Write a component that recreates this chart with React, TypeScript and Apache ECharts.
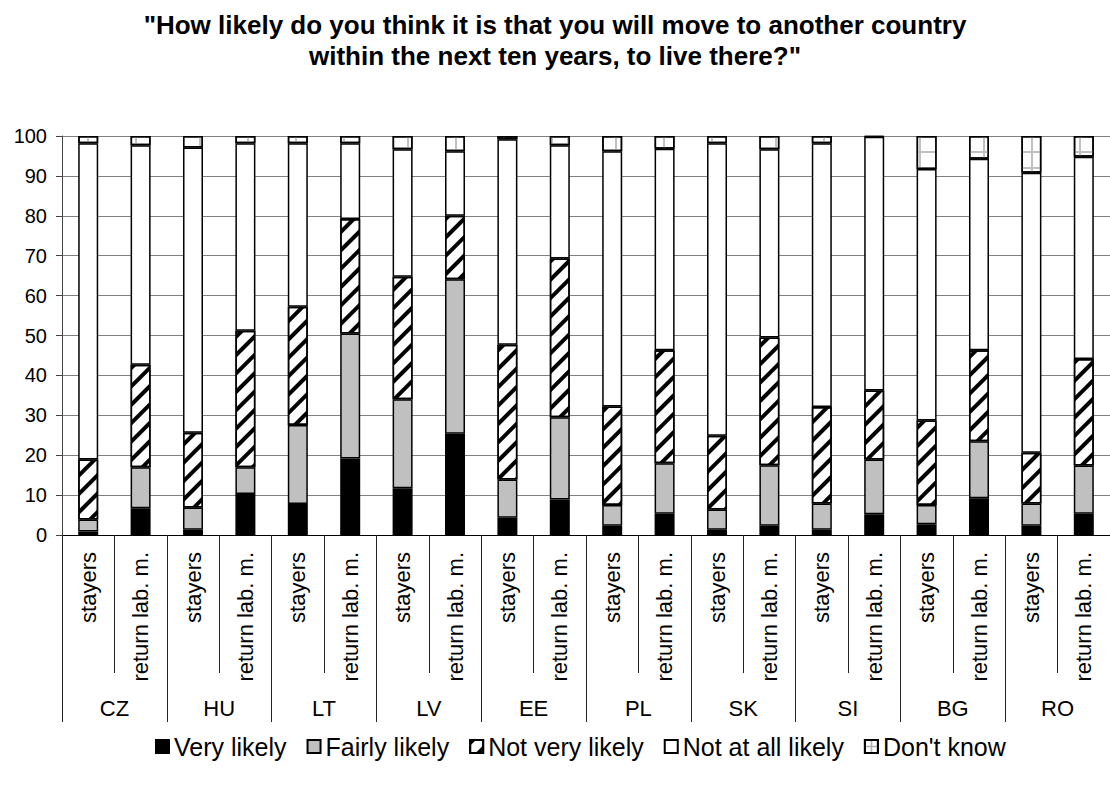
import React, { useEffect, useRef } from "react";
import * as echarts from "echarts";

const countries = ["CZ", "HU", "LT", "LV", "EE", "PL", "SK", "SI", "BG", "RO"];
const groups = ["stayers", "return lab. m."];
const yTicks = [0, 10, 20, 30, 40, 50, 60, 70, 80, 90, 100];

const veryLikely = [0.9, 6.7, 1.3, 10.3, 7.8, 19.2, 11.7, 25.4, 4.3, 8.9, 2.3, 5.3, 1.3, 2.3, 1.3, 5.2, 2.7, 9.2, 2.3, 5.3];
const fairlyLikely = [3.0, 10.3, 5.6, 6.7, 19.8, 31.3, 22.3, 38.7, 9.6, 20.6, 5.2, 12.7, 5.1, 15.2, 6.6, 13.7, 4.8, 14.3, 5.6, 12.1];
const notVeryLikely = [15.0, 25.7, 18.7, 34.2, 29.6, 28.7, 30.7, 15.9, 33.8, 39.8, 24.7, 28.3, 18.5, 32.0, 24.2, 17.3, 21.2, 22.8, 12.7, 26.7];
const notAtAllLikely = [79.3, 55.0, 71.5, 47.0, 41.0, 19.0, 32.0, 16.2, 51.5, 28.4, 64.0, 50.5, 73.3, 47.2, 66.1, 63.6, 63.0, 48.0, 70.2, 50.7];
const dontKnow = [1.8, 2.3, 2.9, 1.8, 1.8, 1.8, 3.3, 3.8, 0.8, 2.3, 3.8, 3.2, 1.8, 3.3, 1.8, 0.2, 8.3, 5.7, 9.2, 5.2];

const FONT = "'Liberation Sans', Arial, sans-serif";

export default function App() {
  const ref = useRef<HTMLDivElement>(null);
  useEffect(() => {
    document.body.style.margin = "0";
    if (!ref.current) return;
    const chart = echarts.init(ref.current, null, { renderer: "svg" });
    const subCats: string[] = [];
    countries.forEach(() => groups.forEach((g) => subCats.push(g)));
    const border = { borderColor: "#000", borderWidth: 1.5 };
    const mk = (name: string, data: number[], itemStyle: any) => ({
      name,
      type: "bar",
      stack: "total",
      barWidth: 20,
      data,
      itemStyle: { ...border, ...itemStyle },
    });
    const hatch = {
      symbol: "rect",
      symbolSize: 1,
      color: "#000",
      backgroundColor: "#fff",
      dashArrayX: [1, 0],
      dashArrayY: [4, 9],
      rotation: -Math.PI / 4,
    };
    const plus = "path://M0,7H16V9H0Z M7,0H9V16H7Z";
    const grid = {
      symbol: plus,
      symbolSize: 1,
      color: "#c0c0c0",
      backgroundColor: "#fff",
      dashArrayX: [16, 0],
      dashArrayY: [16, 0],
      rotation: 0,
    };
    const gridIcon = {
      symbol: plus,
      symbolSize: 1,
      color: "#b0b0b0",
      backgroundColor: "#fff",
      dashArrayX: [13, 0],
      dashArrayY: [13, 0],
      rotation: 0,
    };
    chart.setOption({
      animation: false,
      textStyle: { fontFamily: FONT },
      title: {
        text: '"How likely do you think it is that you will move to another country\nwithin the next ten years, to live there?"',
        left: "center",
        top: 4,
        textStyle: { fontSize: 26, fontWeight: "bold", color: "#000", lineHeight: 31, fontFamily: FONT },
      },
      legend: {
        left: 150,
        top: 729,
        itemWidth: 13,
        itemHeight: 13,
        itemGap: 20,
        icon: "rect",
        textStyle: { fontSize: 25, color: "#000", fontFamily: FONT },
        data: [
          "Very likely",
          "Fairly likely",
          "Not very likely",
          "Not at all likely",
          { name: "Don't know", itemStyle: { decal: gridIcon } },
        ],
      },
      grid: { left: 62, top: 136, width: 1054, height: 399, containLabel: false },
      xAxis: [
        {
          type: "category",
          data: subCats,
          position: "bottom",
          axisLine: { show: true, lineStyle: { color: "#000", width: 1 } },
          axisTick: { show: true, interval: 0, length: 138, lineStyle: { color: "#222" } },
          axisLabel: { interval: 0, rotate: 90, fontSize: 22, color: "#000", margin: 17, fontFamily: FONT },
        },
        {
          type: "category",
          data: countries,
          position: "bottom",
          axisLine: { show: false },
          axisTick: { show: true, interval: 0, length: 187, lineStyle: { color: "#222" } },
          axisLabel: { interval: 0, fontSize: 22, color: "#000", margin: 162, fontFamily: FONT },
        },
      ],
      yAxis: {
        type: "value",
        min: yTicks[0],
        max: yTicks[yTicks.length - 1],
        interval: 10,
        axisLine: { show: true, lineStyle: { color: "#444" } },
        axisTick: { show: true, length: 6, lineStyle: { color: "#444" } },
        axisLabel: { fontSize: 20, color: "#000", margin: 15, fontFamily: FONT },
        splitLine: { show: true, lineStyle: { color: "#808080", width: 1.2 } },
      },
      series: [
        mk("Very likely", veryLikely, { color: "#000" }),
        mk("Fairly likely", fairlyLikely, { color: "#c0c0c0" }),
        mk("Not very likely", notVeryLikely, { color: "#fff", decal: hatch }),
        mk("Not at all likely", notAtAllLikely, { color: "#fff" }),
        mk("Don't know", dontKnow, { color: "#fff", decal: grid }),
      ],
    });
    return () => chart.dispose();
  }, []);
  return <div ref={ref} style={{ width: 1110, height: 787 }} />;
}
